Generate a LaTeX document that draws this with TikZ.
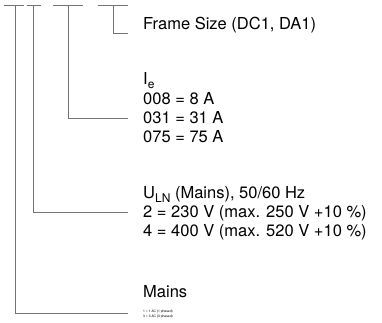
\documentclass[tikz,border=0pt]{standalone}
\usepackage{fontspec}
\setmainfont{TeX Gyre Heros}
\usepackage{tikz}
\tikzstyle{lead} = [draw=black!55, line width=0.9pt]
\tikzstyle{entry} = [inner sep=0pt, anchor=west, text height=11.8pt, text depth=0pt,
    font=\fontsize{16.5}{19}\selectfont]
\tikzstyle{note} = [inner sep=0pt, anchor=west, text height=2.4pt, text depth=0pt,
    font=\fontsize{3.3}{4}\selectfont]
\newcommand{\lowsub}[1]{\raisebox{-0.45ex}{\fontsize{12}{12}\selectfont #1}}

\begin{document}
\begin{tikzpicture}[x=1pt, y=-1pt]
    \useasboundingbox (0,0) rectangle (382,323);
    % tops of the four leads
    \coordinate (mains top) at (15,5);
    \coordinate (uln top) at (33,5);
    \coordinate (ie top) at (68,5);
    \coordinate (frame top) at (113,5);
    \draw[lead] ([xshift=-11pt]mains top) -- ([xshift=9pt]mains top);
    \draw[lead] ([xshift=-6pt]uln top) -- ([xshift=8pt]uln top);
    \draw[lead] ([xshift=-15pt]ie top) -- ([xshift=15pt]ie top);
    \draw[lead] ([xshift=-15pt]frame top) -- ([xshift=15pt]frame top);
    % texts
    \node[entry] (frame) at (143,24) {Frame Size (DC1, DA1)};
    \node[entry] (ie) at (143,79) {I\lowsub{e}};
    \node[entry] (ie008) at (143,99) {008 = 8 A};
    \node[entry] (ie031) at (143,118) {031 = 31 A};
    \node[entry] (ie075) at (143,137) {075 = 75 A};
    \node[entry] (uln) at (143,193) {U\lowsub{LN} (Mains), 50/60 Hz};
    \node[entry] (uln2) at (143,212) {2 = 230 V (max. 250 V +10 \%)};
    \node[entry] (uln4) at (143,231) {4 = 400 V (max. 520 V +10 \%)};
    \node[entry] (mains) at (143,292) {Mains};
    \node[note] (mains1) at (143,311) {1 = 1 AC (1 phased)};
    \node[note] (mains3) at (143,316) {3 = 3 AC (3 phased)};
    % leads down and across to the texts
    \coordinate (frame end) at (128,33);
    \coordinate (mains end) at (128,313.5);
    \draw[lead] (frame top) |- (frame end);
    \draw[lead] (ie top) |- ([xshift=-15pt]ie031.west);
    \draw[lead] (uln top) |- ([xshift=-15pt]uln2.west);
    \draw[lead] (mains top) |- (mains end);
\end{tikzpicture}
\end{document}
